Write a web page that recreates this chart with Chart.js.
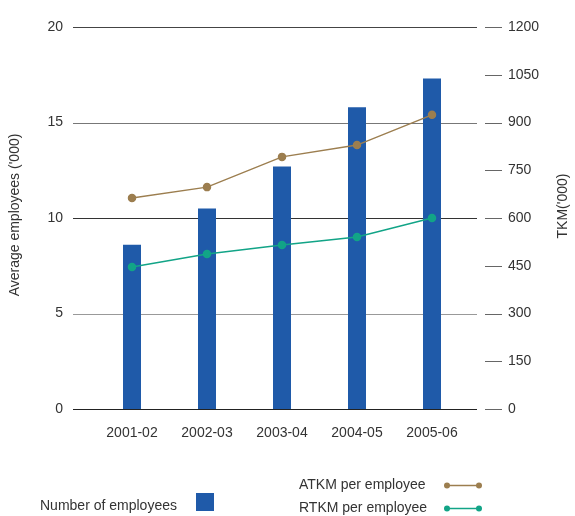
<!DOCTYPE html>
<html>
<head>
<meta charset="utf-8">
<script src="https://cdn.jsdelivr.net/npm/chart.js@4"></script>
<style>
  html, body { margin: 0; padding: 0; background: #fff; }
  #wrap { width: 575px; height: 516px; position: relative; }
</style>
</head>
<body>
<div id="wrap"><canvas id="staffChart"></canvas></div>
<script>
// financial years
const years = ['2001-02', '2002-03', '2003-04', '2004-05', '2005-06'];
// average employees ('000)
const employees = [8.6, 10.5, 12.7, 15.8, 17.3];
// tonne-km per employee ('000)
const atkm = [663, 697, 792, 829, 924];
const rtkm = [446, 487, 515, 540, 600];

const BLUE = '#1f5aa9';
const BROWN = '#9c7e4f';
const TEAL = '#12a487';
const TEXT = '#333333';
const FONT = 'Liberation Sans, Arial, Helvetica, sans-serif';

// grid colours per left tick value
const gridColours = { 0: '#222', 5: '#999', 10: '#333', 15: '#777', 20: '#444' };

// horizontal rules run past the plot area, right axis has its own short marks
const rulesPlugin = {
    id: 'rules',
    beforeDatasetsDraw(chart) {
        const ctx = chart.ctx;
        const y = chart.scales.y;
        const y1 = chart.scales.y1;
        ctx.save();
        ctx.lineWidth = 1;
        y.ticks.forEach(t => {
            const py = Math.round(y.getPixelForValue(t.value)) + 0.5;
            ctx.strokeStyle = gridColours[t.value] || '#555';
            ctx.beginPath();
            ctx.moveTo(73, py);
            ctx.lineTo(477, py);
            ctx.stroke();
        });
        ctx.strokeStyle = '#666';
        y1.ticks.forEach(t => {
            const py = Math.round(y1.getPixelForValue(t.value)) + 0.5;
            ctx.beginPath();
            ctx.moveTo(485, py);
            ctx.lineTo(502, py);
            ctx.stroke();
        });
        ctx.restore();
    },
    afterDraw(chart) {
        const ctx = chart.ctx;
        ctx.save();
        ctx.fillStyle = TEXT;
        ctx.font = '14px ' + FONT;
        ctx.textBaseline = 'middle';
        ctx.textAlign = 'center';

        // both axis titles read bottom to top
        const vTitle = (text, x, y) => {
            ctx.save();
            ctx.translate(x, y);
            ctx.rotate(-Math.PI / 2);
            ctx.fillText(text, 0, 0);
            ctx.restore();
        };
        vTitle("Average employees ('000)", 15, 215);
        vTitle("TKM('000)", 563, 206);

        // legend
        ctx.textAlign = 'left';
        ctx.fillText('Number of employees', 40, 506);
        ctx.fillStyle = BLUE;
        ctx.fillRect(196, 493, 18, 18);

        const lineKey = (label, colour, y) => {
            ctx.fillStyle = TEXT;
            ctx.fillText(label, 299, y);
            ctx.strokeStyle = colour;
            ctx.fillStyle = colour;
            ctx.lineWidth = 1.5;
            ctx.beginPath();
            ctx.moveTo(447, y + 0.5);
            ctx.lineTo(479, y + 0.5);
            ctx.stroke();
            [447, 479].forEach(x => {
                ctx.beginPath();
                ctx.arc(x, y + 0.5, 3, 0, Math.PI * 2);
                ctx.fill();
            });
        };
        lineKey('ATKM per employee', BROWN, 485);
        lineKey('RTKM per employee', TEAL, 508);
        ctx.restore();
    }
};

// fixed axis sizes, without the extra label padding chart.js adds
const fixWidth = w => s => { s.width = w; s.paddingTop = 8; s.paddingBottom = 8; };

const ctx = document.getElementById('staffChart').getContext('2d');
Chart.defaults.font.family = FONT;
Chart.defaults.font.size = 14;
Chart.defaults.color = TEXT;

new Chart(ctx, {
    type: 'bar',
    data: {
        labels: years,
        datasets: [
            {
                type: 'line',
                label: 'ATKM per employee',
                data: atkm,
                yAxisID: 'y1',
                borderColor: BROWN,
                backgroundColor: BROWN,
                borderWidth: 1.5,
                pointRadius: 3.5,
                pointHoverRadius: 3.5,
                tension: 0,
                order: 1
            },
            {
                type: 'line',
                label: 'RTKM per employee',
                data: rtkm,
                yAxisID: 'y1',
                borderColor: TEAL,
                backgroundColor: TEAL,
                borderWidth: 1.5,
                pointRadius: 3.5,
                pointHoverRadius: 3.5,
                tension: 0,
                order: 1
            },
            {
                label: 'Number of employees',
                data: employees,
                yAxisID: 'y',
                backgroundColor: BLUE,
                barPercentage: 0.24,
                categoryPercentage: 1,
                order: 2
            }
        ]
    },
    options: {
        responsive: true,
        maintainAspectRatio: false,
        animation: false,
        layout: {
            padding: { top: 27, bottom: 74.6, left: 0, right: 0 }
        },
        plugins: {
            legend: { display: false },
            tooltip: { enabled: false }
        },
        scales: {
            x: {
                grid: { display: false, drawTicks: false },
                border: { display: false },
                ticks: { padding: 15.6 },
                afterFit: s => { s.height = 32.4; }
            },
            y: {
                position: 'left',
                min: 0,
                max: 20,
                grid: { display: false, drawTicks: false },
                border: { display: false },
                ticks: { stepSize: 5, padding: 31.5 },
                afterFit: fixWidth(94.5)
            },
            y1: {
                position: 'right',
                min: 0,
                max: 1200,
                grid: { display: false, drawTicks: false },
                border: { display: false },
                ticks: { stepSize: 150, padding: 38.5, callback: v => String(v) },
                afterFit: fixWidth(105.5)
            }
        }
    },
    plugins: [rulesPlugin]
});
</script>
</body>
</html>
